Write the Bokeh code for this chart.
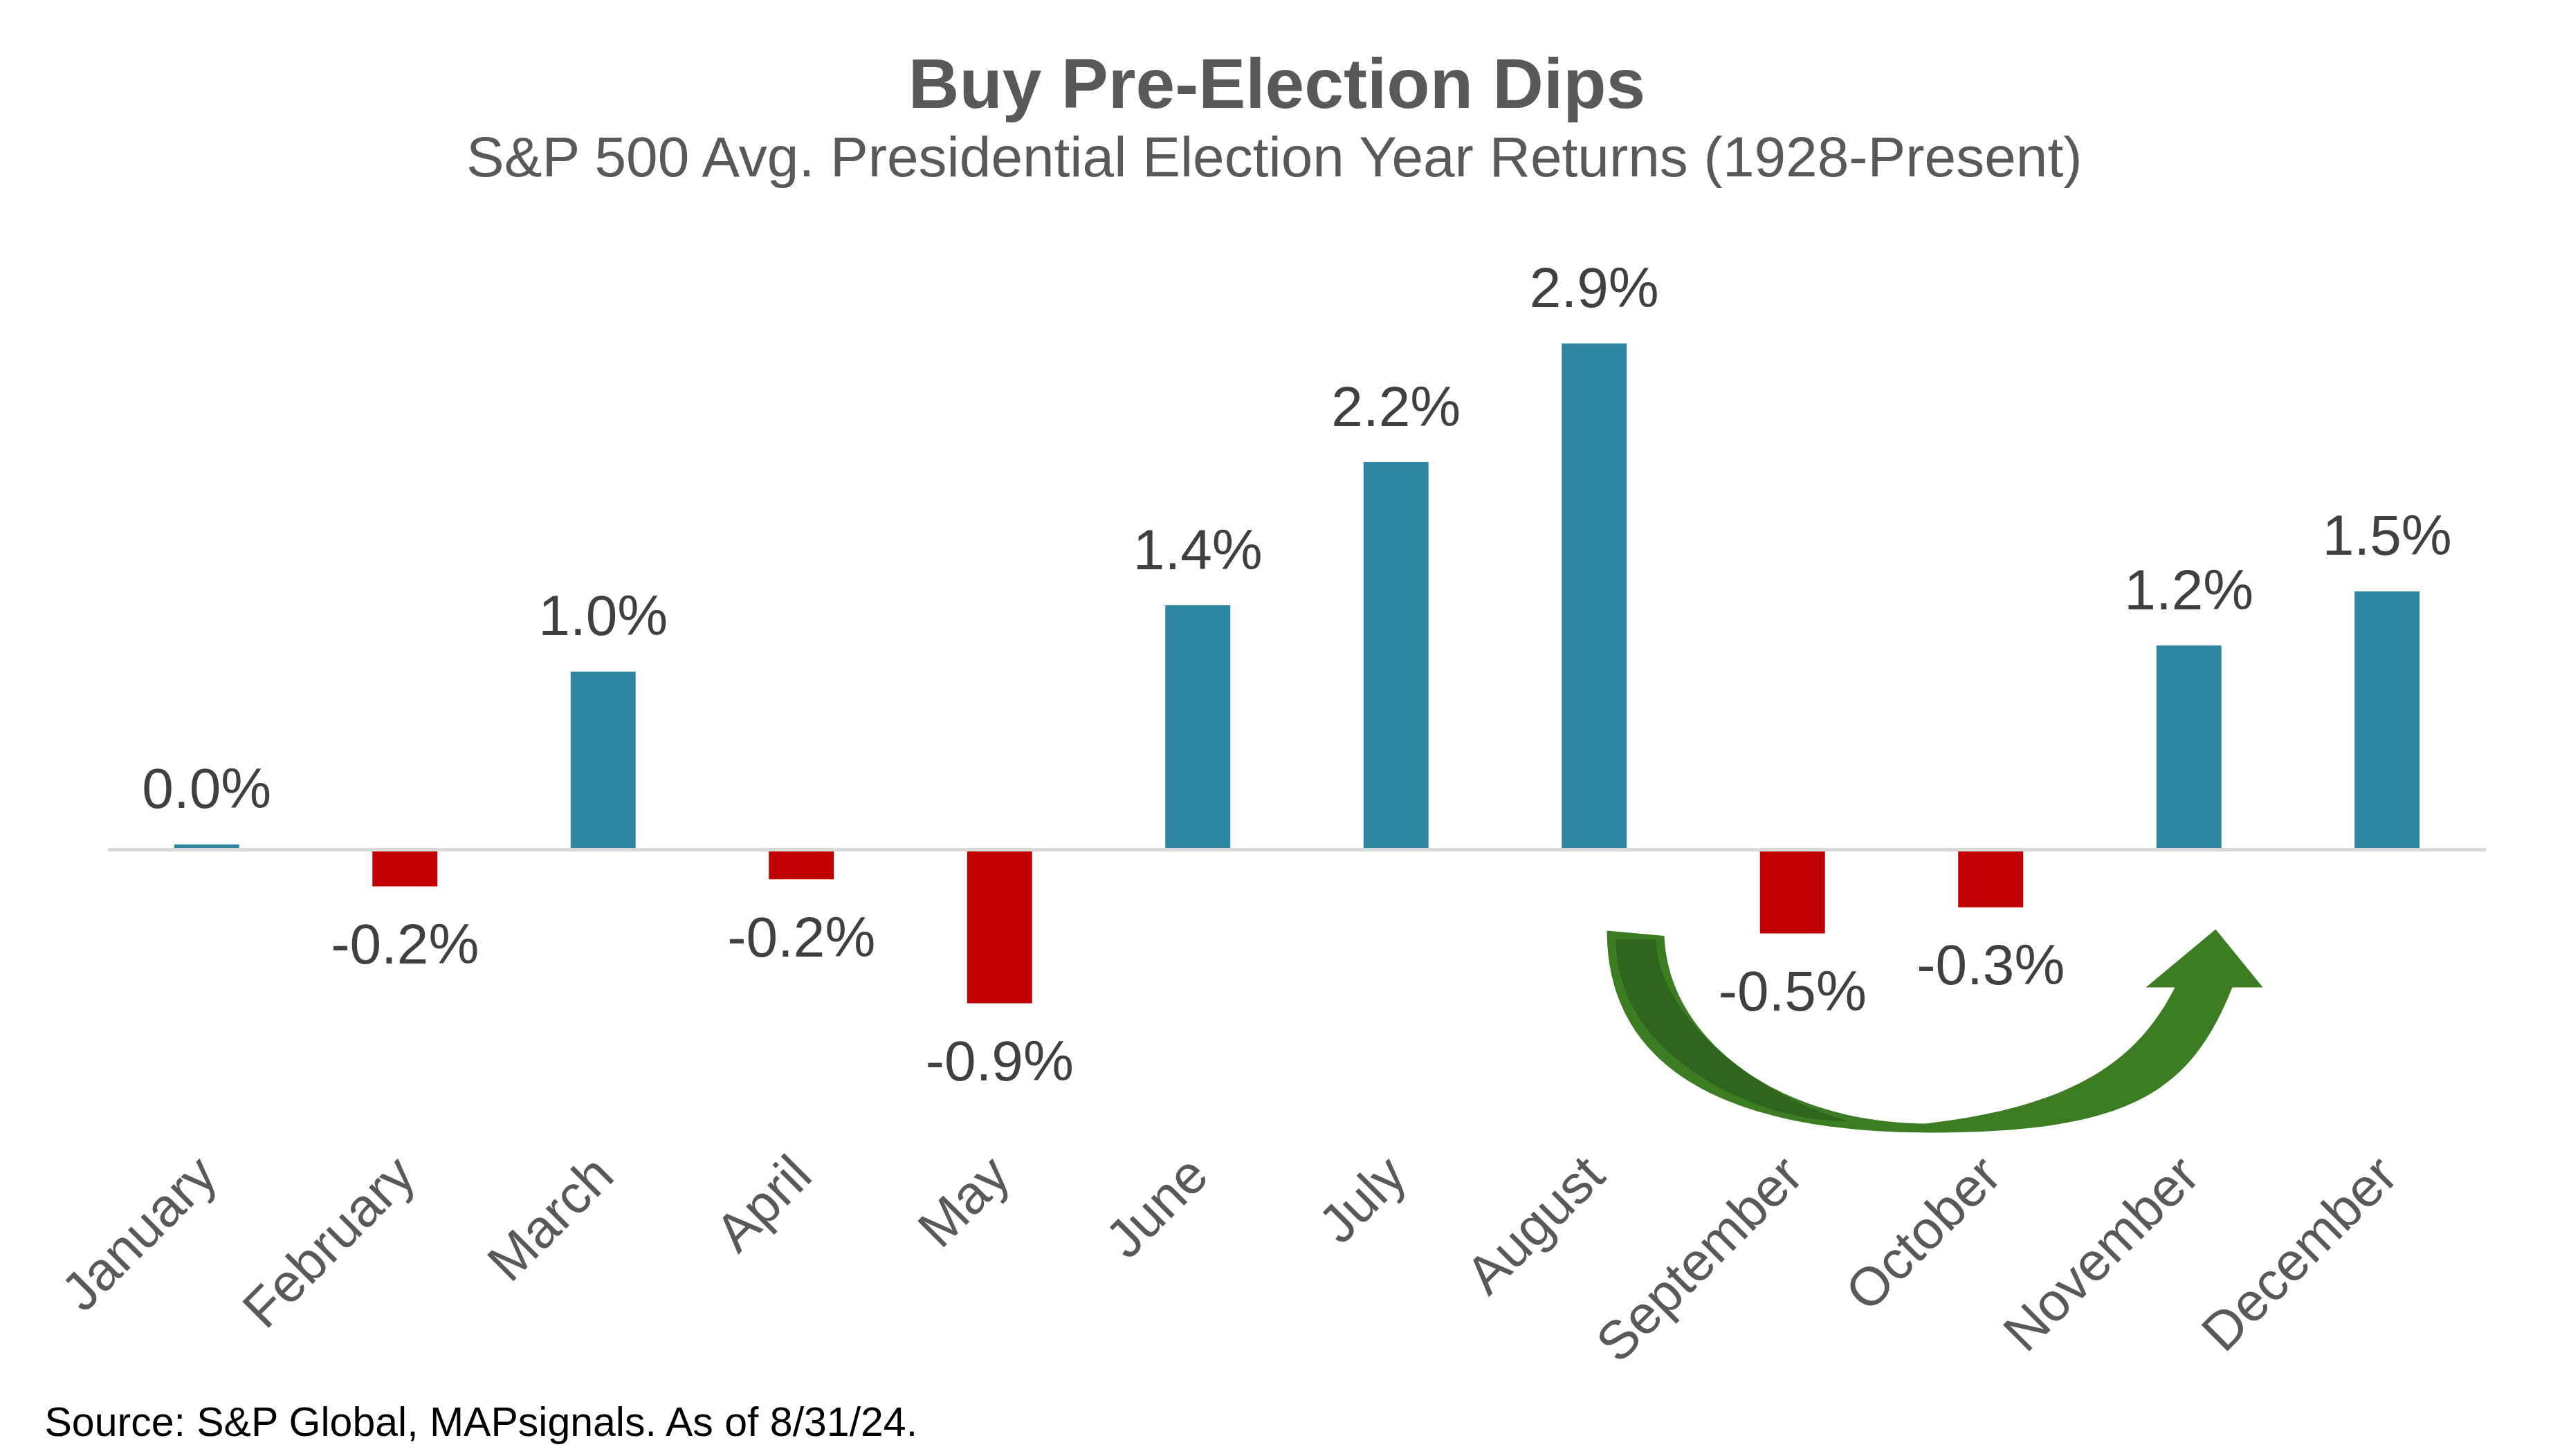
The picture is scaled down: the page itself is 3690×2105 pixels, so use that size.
import math
from bokeh.plotting import figure
from bokeh.models import ColumnDataSource, Range1d, FactorRange, Label, Title
from bokeh.embed import file_html
from bokeh.resources import INLINE
from bokeh.core.properties import value

# ---------------- data ----------------
months = ["January", "February", "March", "April", "May", "June",
          "July", "August", "September", "October", "November", "December"]
avg_returns = [0.03, -0.21, 1.02, -0.17, -0.88, 1.40, 2.22, 2.90, -0.48, -0.33, 1.17, 1.48]

title_text = "Buy Pre-Election Dips"
subtitle_text = "S&P 500 Avg. Presidential Election Year Returns (1928-Present)"
source_text = "Source: S&P Global, MAPsignals. As of 8/31/24."

# ---------------- styles ----------------
BLUE = "#2E86A3"
RED = "#C00000"
GREEN = "#3C7D23"
DARK_GREEN = "#2F651D"
FONT = "Liberation Sans"

colors = [BLUE if v >= 0 else RED for v in avg_returns]
labels = [f"{v:.1f}%" for v in avg_returns]

src = ColumnDataSource(dict(month=months, ret=avg_returns, color=colors, label=labels))
pos_src = ColumnDataSource(dict(
    month=[m for m, v in zip(months, avg_returns) if v >= 0],
    ret=[v for v in avg_returns if v >= 0],
    label=[l for l, v in zip(labels, avg_returns) if v >= 0]))
neg_src = ColumnDataSource(dict(
    month=[m for m, v in zip(months, avg_returns) if v < 0],
    ret=[v for v in avg_returns if v < 0],
    label=[l for l, v in zip(labels, avg_returns) if v < 0]))

p = figure(width=3674, height=2089,
           x_range=FactorRange(factors=months, range_padding=0, factor_padding=0),
           y_range=Range1d(-1.791, 4.865),
           output_backend="svg", toolbar_location=None,
           min_border_left=155, min_border_right=81,
           min_border_top=0, min_border_bottom=409)

p.outline_line_color = None
p.grid.visible = False
p.yaxis.visible = False
p.background_fill_color = "white"

p.vbar(x="month", top="ret", width=0.328, fill_color="color", line_color=None, source=src)

# zero line across the plot width
p.segment(x0=[0], y0=[0], x1=[len(months)], y1=[0], line_color="#D9D9D9", line_width=5)

p.text(x="month", y="ret", text="label", source=pos_src, y_offset=-81,
       text_align="center", text_baseline="alphabetic",
       text_font=value(FONT), text_font_size="82px", text_color="#404040")
p.text(x="month", y="ret", text="label", source=neg_src, y_offset=83,
       text_align="center", text_baseline="alphabetic",
       text_font=value(FONT), text_font_size="82px", text_color="#404040")

# ---------------- curved arrow (decoration, in data units) ----------------
def bezier(p0, p1, p2, p3, n=60):
    xs, ys = [], []
    for i in range(n):
        t = i / (n - 1)
        a, b, c, d = (1 - t) ** 3, 3 * (1 - t) ** 2 * t, 3 * (1 - t) * t ** 2, t ** 3
        xs.append(a * p0[0] + b * p1[0] + c * p2[0] + d * p3[0])
        ys.append(a * p0[1] + b * p1[1] + c * p2[1] + d * p3[1])
    return xs, ys

ol_x, ol_y = bezier((7.564, -0.4636), (7.564, -1.2163), (8.115, -1.6204), (9.197, -1.6204))
or_x, or_y = bezier((9.197, -1.6204), (10.209, -1.6204), (10.510, -1.3827), (10.719, -0.7884))
ir_x, ir_y = bezier((10.429, -0.7884), (10.237, -1.2242), (9.895, -1.4739), (9.169, -1.5689))
il_x, il_y = bezier((9.169, -1.5689), (8.401, -1.5610), (7.853, -1.0578), (7.853, -0.4636))

head_x = [10.873, 10.635, 10.283]
head_y = [-0.7884, -0.4556, -0.7884]

arrow_x = ol_x + or_x[1:] + head_x + ir_x + il_x[1:-1]
arrow_y = ol_y + or_y[1:] + head_y + ir_y + il_y[1:-1]
p.patch(arrow_x, arrow_y, fill_color=GREEN, line_color=None)

# darker inner band on the left half
do_x, do_y = bezier((7.609, -0.5151), (7.609, -1.2282), (8.394, -1.5729), (8.778, -1.5531))
di_x, di_y = bezier((8.778, -1.5531), (8.325, -1.4144), (7.819, -0.9588), (7.812, -0.5151))
p.patch(do_x + di_x[1:], do_y + di_y[1:], fill_color=DARK_GREEN, line_color=None)

# ---------------- axis ----------------
ax = p.xaxis[0]
ax.axis_line_color = None
ax.major_tick_line_color = None
ax.minor_tick_line_color = None
ax.major_tick_out = 0
ax.major_tick_in = 0
ax.major_label_orientation = math.pi / 4
ax.major_label_standoff = 4
ax.major_label_text_font = FONT
ax.major_label_text_font_size = "78px"
ax.major_label_text_color = "#595959"

# ---------------- titles ----------------
p.add_layout(Label(x=5.899, y=4.386, text=title_text, text_align="center",
                   text_baseline="alphabetic", text_font=FONT, text_font_size="102px",
                   text_font_style="bold", text_color="#595959"))
p.add_layout(Label(x=5.899, y=3.970, text=subtitle_text, text_align="center",
                   text_baseline="alphabetic", text_font=FONT, text_font_size="82px",
                   text_color="#595959"))

p.add_layout(Title(text=source_text, align="left", offset=-91, standoff=2,
                   text_font=FONT, text_font_size="59px", text_font_style="normal",
                   text_color="#000000"), "below")

open("out.html", "w").write(file_html(p, INLINE))
